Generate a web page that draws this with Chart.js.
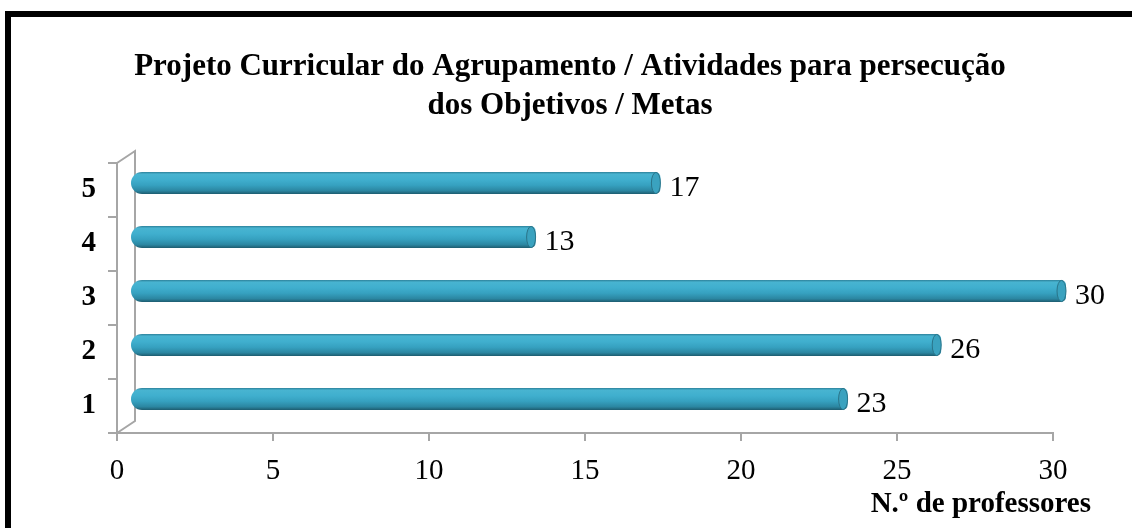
<!DOCTYPE html>
<html><head><meta charset="utf-8">
<script src="https://cdn.jsdelivr.net/npm/chart.js@4.4.1/dist/chart.umd.min.js"></script>
<style>
html,body{margin:0;padding:0;background:#fff;width:1132px;height:528px;overflow:hidden}
#frame{position:absolute;left:5px;top:11px;width:1400px;height:800px;border:6px solid #000;box-sizing:border-box}
#c{position:absolute;left:0;top:0}
</style></head><body>
<div id="frame"></div>
<canvas id="c" width="1132" height="528"></canvas>
<script>
const categories = ['1','2','3','4','5'];
const teachers = [23, 26, 30, 13, 17];
const xTicks = [0, 5, 10, 15, 20, 25, 30];
const titleLines = ['Projeto Curricular do Agrupamento / Atividades para persecução', 'dos Objetivos / Metas'];
const xTitle = 'N.º de professores';

const FAM = "'Liberation Serif', 'Times New Roman', serif";
const AXIS = '#a6a6a6';
const BAR_PCT = 0.41;
const DX = 13, DY = -7;

function barGradient(c) {
  const chart = c.chart;
  const y = chart.scales && chart.scales.y;
  if (!chart.chartArea || !y || c.dataIndex === undefined) return '#3aa8c6';
  const cy = y.getPixelForValue(c.dataIndex);
  const h = (y.height / categories.length) * BAR_PCT;
  const g = chart.ctx.createLinearGradient(0, cy - h / 2, 0, cy + h / 2);
  g.addColorStop(0, '#2c7f98');
  g.addColorStop(0.1, '#48b4d1');
  g.addColorStop(0.35, '#40afce');
  g.addColorStop(0.6, '#36a1c0');
  g.addColorStop(0.85, '#2b86a1');
  g.addColorStop(1, '#1d5b6e');
  return g;
}

const decor = {
  id: 'decor',
  beforeDatasetsDraw(chart) {
    const { ctx, chartArea: a } = chart;
    ctx.save();
    ctx.strokeStyle = AXIS; ctx.lineWidth = 2;
    ctx.beginPath();
    ctx.moveTo(a.left, a.top);
    ctx.lineTo(a.left + 18, a.top - 12);
    ctx.lineTo(a.left + 18, a.bottom - 12);
    ctx.lineTo(a.left, a.bottom);
    ctx.stroke();
    ctx.restore();
  },
  beforeDatasetDraw(chart) {
    chart.ctx.save();
    chart.ctx.translate(DX, DY);
  },
  afterDatasetDraw(chart, args) {
    const ctx = chart.ctx;
    args.meta.data.forEach(el => {
      const h = el.height;
      ctx.beginPath();
      ctx.ellipse(el.x - 4.5, el.y, 4.5, h / 2 - 0.5, 0, 0, Math.PI * 2);
      ctx.fillStyle = '#3aa2bf';
      ctx.fill();
      ctx.strokeStyle = '#2a7489';
      ctx.lineWidth = 1;
      ctx.stroke();
    });
    ctx.restore();
  },
  afterDatasetsDraw(chart) {
    const ctx = chart.ctx;
    const meta = chart.getDatasetMeta(0);
    ctx.save();
    ctx.fillStyle = '#000';
    ctx.font = '30px ' + FAM;
    ctx.textAlign = 'left';
    ctx.textBaseline = 'middle';
    meta.data.forEach((el, i) => {
      ctx.fillText(String(teachers[i]), el.x + DX + 9, el.y + DY + 5);
    });
    ctx.font = 'bold 29px ' + FAM;
    ctx.textAlign = 'right';
    ctx.fillText(xTitle, 1091, 505);
    ctx.font = 'bold 31px ' + FAM;
    ctx.textAlign = 'center';
    ctx.fillText(titleLines[0], 570, 67);
    ctx.fillText(titleLines[1], 570, 106);
    ctx.restore();
  }
};

new Chart(document.getElementById('c'), {
  type: 'bar',
  data: {
    labels: categories,
    datasets: [{
      data: teachers,
      backgroundColor: barGradient,
      borderWidth: 0,
      borderSkipped: false,
      borderRadius: { topLeft: 11, bottomLeft: 11, topRight: 5, bottomRight: 5 },
      barPercentage: BAR_PCT,
      categoryPercentage: 1,
      clip: false
    }]
  },
  options: {
    indexAxis: 'y',
    responsive: false,
    animation: false,
    layout: { padding: { left: 0, right: 79, top: 163, bottom: 0 } },
    plugins: {
      legend: { display: false },
      tooltip: { enabled: false },
      title: { display: false }
    },
    scales: {
      x: {
        type: 'linear', min: 0, max: 30,
        afterBuildTicks(s) { s.ticks = xTicks.map(v => ({ value: v })); },
        ticks: { color: '#000', font: { family: FAM, size: 29 }, padding: 13 },
        grid: { drawOnChartArea: false, color: AXIS, lineWidth: 2, tickLength: 8 },
        border: { color: AXIS, width: 2 },
        afterFit(s) { s.height = 95; }
      },
      y: {
        reverse: true,
        ticks: { color: '#000', font: { family: FAM, size: 29, weight: 'bold' }, padding: 12 },
        grid: { drawOnChartArea: false, color: AXIS, lineWidth: 2, tickLength: 9, offset: true },
        border: { color: AXIS, width: 2 },
        afterFit(s) { s.width = 117; }
      }
    }
  },
  plugins: [decor]
});
</script>
</body></html>
